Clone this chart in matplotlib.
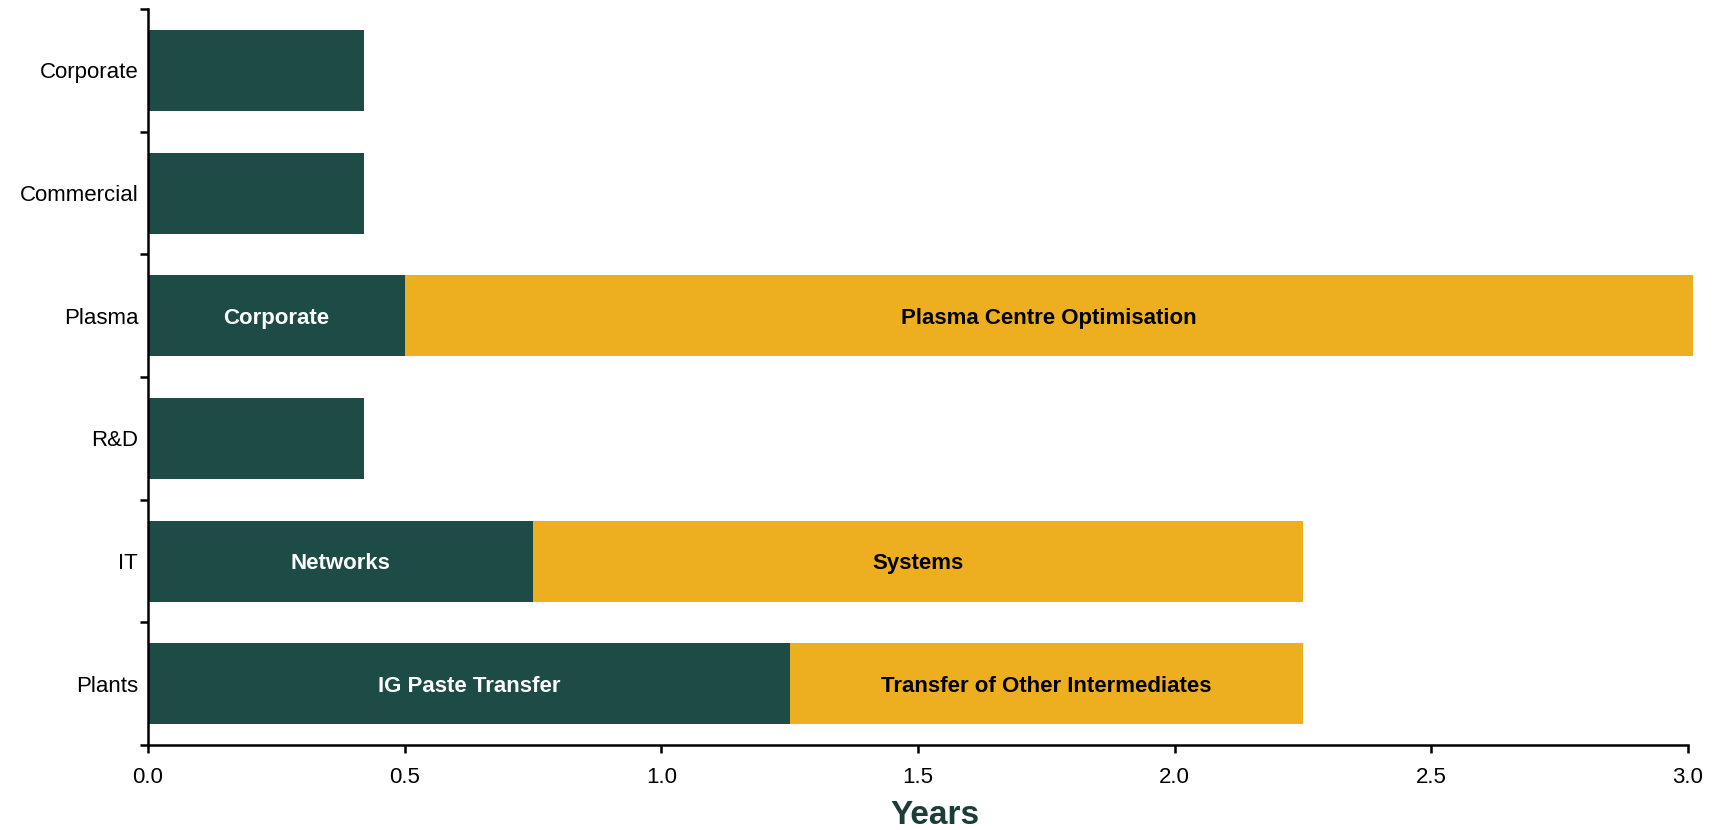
import numpy as np
import matplotlib
matplotlib.use("Agg")
import matplotlib.pyplot as plt

plt.rcParams['font.family'] = ['Liberation Sans', 'DejaVu Sans']

# bottom to top
categories = ["Plants", "IT", "R&D", "Plasma", "Commercial", "Corporate"]
first_years = [1.25, 0.75, 0.42, 0.5, 0.42, 0.42]
second_years = [1.0, 1.5, 0.0, 2.51, 0.0, 0.0]
first_labels = ["IG Paste Transfer", "Networks", "", "Corporate", "", ""]
second_labels = ["Transfer of Other Intermediates", "Systems", "", "Plasma Centre Optimisation", "", ""]

green = "#1d4b45"
yellow = "#edae1f"

fig = plt.figure(figsize=(17.16, 8.30), dpi=100)
ax = fig.add_axes([0.0862, 0.1024, 0.8975, 0.8866])

y = np.arange(len(categories))
first_years = np.array(first_years)
second_years = np.array(second_years)
ax.barh(y, first_years, height=0.66, color=green)
ax.barh(y, second_years, left=first_years, height=0.66, color=yellow, clip_on=False)

for i in range(len(categories)):
    if first_labels[i]:
        ax.text(first_years[i] / 2, y[i] - 0.02, first_labels[i], ha='center', va='center',
                color='white', fontsize=16, fontweight='bold')
    if second_labels[i]:
        ax.text(first_years[i] + second_years[i] / 2, y[i] - 0.02, second_labels[i],
                ha='center', va='center', color='black', fontsize=16, fontweight='bold')

ax.set_xlim(0, 3.0)
ax.set_ylim(-0.5, len(categories) - 0.5)
ax.set_xticks(np.arange(0, 3.01, 0.5))
ax.set_xticklabels([f"{v:.1f}" for v in np.arange(0, 3.01, 0.5)])
ax.set_yticks(np.arange(-0.5, len(categories), 1.0))
ax.set_yticklabels([])
ax.set_yticks(y, minor=True)
ax.set_yticklabels(categories, minor=True)
ax.tick_params(axis='y', which='minor', length=0, pad=7, labelsize=16)
ax.tick_params(axis='y', which='major', length=6, width=1.8)
ax.tick_params(axis='x', length=6, width=1.8, labelsize=16, pad=10)

for s in ['top', 'right']:
    ax.spines[s].set_visible(False)
for s in ['left', 'bottom']:
    ax.spines[s].set_linewidth(1.8)

ax.set_xlabel("Years", fontsize=24, fontweight='bold', color="#1b3d3a", labelpad=7)
ax.xaxis.set_label_coords(0.511, -0.075)

fig.savefig("out.png", dpi=100)
